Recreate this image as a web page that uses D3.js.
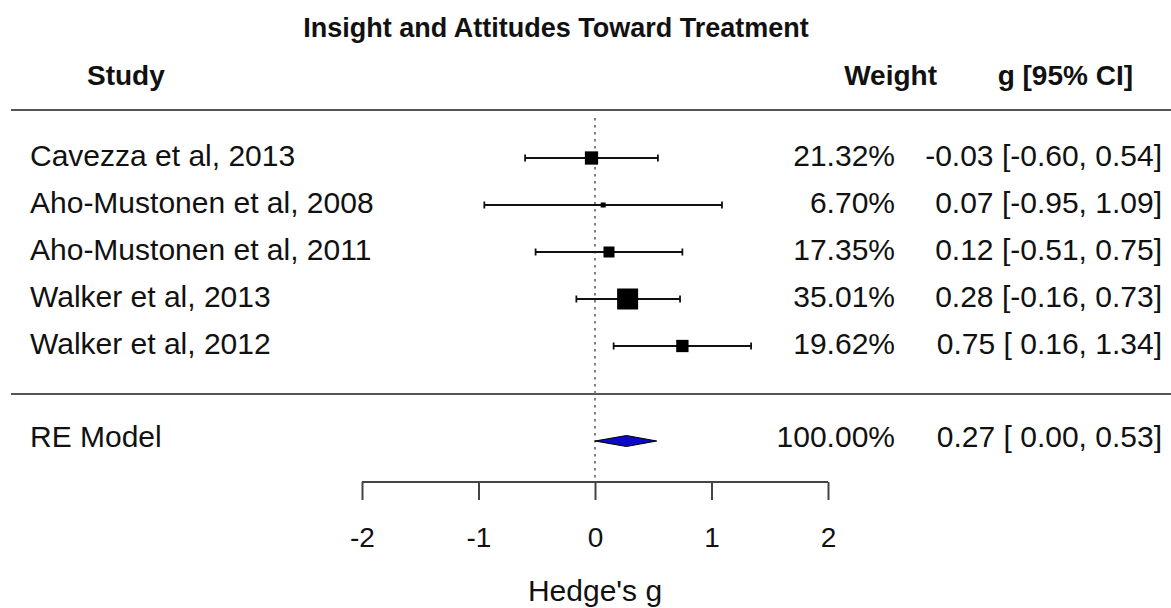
<!DOCTYPE html>
<html>
<head>
<meta charset="utf-8">
<script src="https://cdn.jsdelivr.net/npm/d3@7"></script>
<style>
  body { margin: 0; background: #fff; }
  text { font-family: "Liberation Sans", Arial, sans-serif; fill: #111; }
</style>
</head>
<body>
<script>
// Study data
var studies = ["Cavezza et al, 2013", "Aho-Mustonen et al, 2008", "Aho-Mustonen et al, 2011",
               "Walker et al, 2013", "Walker et al, 2012"];
var estimates = [-0.03, 0.07, 0.12, 0.28, 0.75];
var lower = [-0.60, -0.95, -0.51, -0.16, 0.16];
var upper = [0.54, 1.09, 0.75, 0.73, 1.34];
var weights = [21.32, 6.70, 17.35, 35.01, 19.62];

// Summary (RE model)
var reLabel = "RE Model";
var reEst = 0.27, reLow = 0.00, reHigh = 0.53, reWeight = 100.00;

var xTicks = [-2, -1, 0, 1, 2];

var WIDTH = 1171, HEIGHT = 608;
var FS = 30;

// plain hyphen instead of unicode minus, like R
function fmt(v) { return d3.format(".2f")(v).replace("\u2212", "-"); }
function ciText(e, l, u) {
    return fmt(e) + " [" + (l < 0 ? "" : " ") + fmt(l) + ", " + fmt(u) + "]";
}

var svg = d3.select("body").append("svg")
    .attr("width", WIDTH)
    .attr("height", HEIGHT);

var xScale = d3.scaleLinear().domain([-2, 2]).range([362, 828]);
var yScale = d3.scalePoint().domain(studies).range([158, 346]);
var yRE = 441;
var sizeScale = d3.scaleLinear().domain([d3.min(weights), d3.max(weights)]).range([5, 21]);

// Title and headers
svg.append("text").attr("x", 556).attr("y", 37).attr("text-anchor", "middle")
    .attr("font-size", 27).attr("font-weight", "bold").text("Insight and Attitudes Toward Treatment");
svg.append("text").attr("x", 87).attr("y", 85).attr("font-size", 28).attr("font-weight", "bold").text("Study");
svg.append("text").attr("x", 937).attr("y", 85).attr("text-anchor", "end")
    .attr("font-size", 28).attr("font-weight", "bold").text("Weight");
svg.append("text").attr("x", 1133).attr("y", 85).attr("text-anchor", "end")
    .attr("font-size", 28).attr("font-weight", "bold").text("g [95% CI]");

// Horizontal separators
[110, 394].forEach(function(y) {
    svg.append("line").attr("x1", 11).attr("x2", WIDTH).attr("y1", y).attr("y2", y)
        .attr("stroke", "#555").attr("stroke-width", 2);
});

// Zero reference line
svg.append("line").attr("x1", xScale(0)).attr("x2", xScale(0))
    .attr("y1", 118).attr("y2", 478)
    .attr("stroke", "#808080").attr("stroke-width", 2).attr("stroke-dasharray", "2.5,4.5");

// Study rows
var rows = svg.selectAll("g.row").data(studies).enter().append("g").attr("class", "row");

rows.append("text").attr("x", 30).attr("y", function(d) { return yScale(d) + 7.5; })
    .attr("font-size", FS).text(function(d) { return d; });

rows.append("line")
    .attr("x1", function(d, i) { return xScale(lower[i]); })
    .attr("x2", function(d, i) { return xScale(upper[i]); })
    .attr("y1", function(d) { return yScale(d); })
    .attr("y2", function(d) { return yScale(d); })
    .attr("stroke", "#111").attr("stroke-width", 1.8);

[lower, upper].forEach(function(arr) {
    rows.append("line")
        .attr("x1", function(d, i) { return xScale(arr[i]); })
        .attr("x2", function(d, i) { return xScale(arr[i]); })
        .attr("y1", function(d) { return yScale(d) - 3.5; })
        .attr("y2", function(d) { return yScale(d) + 3.5; })
        .attr("stroke", "#111").attr("stroke-width", 1.8);
});

rows.append("rect")
    .attr("x", function(d, i) { return xScale(estimates[i]) - sizeScale(weights[i]) / 2; })
    .attr("y", function(d, i) { return yScale(d) - sizeScale(weights[i]) / 2; })
    .attr("width", function(d, i) { return sizeScale(weights[i]); })
    .attr("height", function(d, i) { return sizeScale(weights[i]); })
    .attr("fill", "#000");

rows.append("text").attr("x", 895).attr("y", function(d) { return yScale(d) + 7.5; })
    .attr("text-anchor", "end").attr("font-size", FS)
    .text(function(d, i) { return fmt(weights[i]) + "%"; });

rows.append("text").attr("x", 1162).attr("y", function(d) { return yScale(d) + 7.5; })
    .attr("text-anchor", "end").attr("font-size", FS)
    .text(function(d, i) { return ciText(estimates[i], lower[i], upper[i]); });

// RE model row
svg.append("text").attr("x", 30).attr("y", yRE + 6).attr("font-size", FS).text(reLabel);
svg.append("polygon")
    .attr("points", [[xScale(reLow), yRE], [xScale(reEst), yRE - 5.5], [xScale(reHigh), yRE], [xScale(reEst), yRE + 5.5]].join(" "))
    .attr("fill", "#0a0ac8").attr("stroke", "#000").attr("stroke-width", 1);
svg.append("text").attr("x", 895).attr("y", yRE + 6).attr("text-anchor", "end").attr("font-size", FS)
    .text(fmt(reWeight) + "%");
svg.append("text").attr("x", 1162).attr("y", yRE + 6).attr("text-anchor", "end").attr("font-size", FS)
    .text(ciText(reEst, reLow, reHigh));

// X axis
var xAxis = d3.axisBottom(xScale).tickValues(xTicks).tickSize(18).tickPadding(27);
var ax = svg.append("g").attr("transform", "translate(0,482)").call(xAxis);
ax.select(".domain").attr("stroke", "#444").attr("stroke-width", 2)
    .attr("d", "M" + xScale(-2) + ",0H" + xScale(2));
ax.selectAll(".tick line").attr("stroke", "#444").attr("stroke-width", 2);
ax.selectAll(".tick text").attr("font-size", 28).attr("font-family", "Liberation Sans, Arial, sans-serif")
    .attr("fill", "#111").text(function(d) { return fmt(d).replace(".00", ""); });

svg.append("text").attr("x", xScale(0)).attr("y", 601).attr("text-anchor", "middle")
    .attr("font-size", 30).text("Hedge's g");
</script>
</body>
</html>
